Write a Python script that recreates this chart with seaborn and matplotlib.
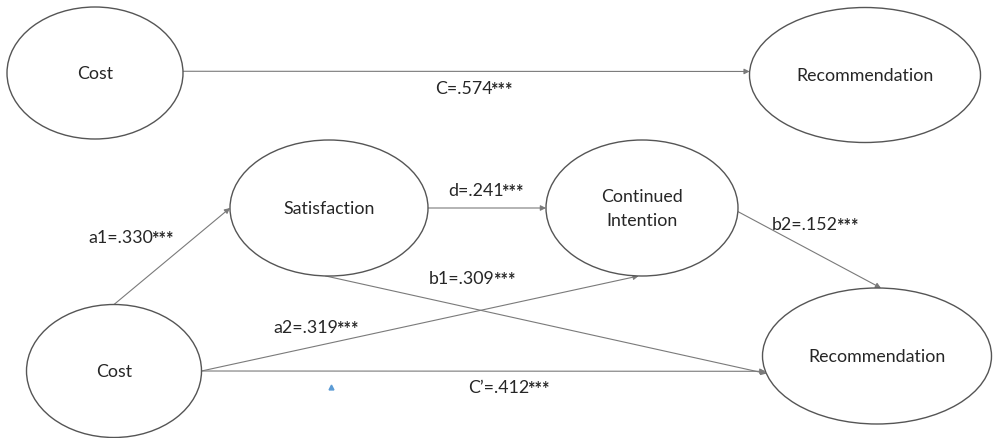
import numpy as np
import matplotlib
matplotlib.use("Agg")
import matplotlib.pyplot as plt
from matplotlib.patches import Ellipse
import seaborn as sns

# ---- data ----
node_ids = ["cost_top", "rec_top", "sat", "ci", "cost_bot", "rec_bot"]
node_labels = ["Cost", "Recommendation", "Satisfaction", "Continued\nIntention", "Cost", "Recommendation"]
edge_src = ["cost_top", "cost_bot", "sat", "sat", "cost_bot", "cost_bot", "ci"]
edge_dst = ["rec_top", "sat", "ci", "rec_bot", "ci", "rec_bot", "rec_bot"]
edge_names = ["C", "a1", "d", "b1", "a2", "C\u2019", "b2"]
edge_coefs = [".574", ".330", ".241", ".309", ".319", ".412", ".152"]
edge_sig = ["***"] * 7

# ---- layout (pixel coordinates, y down) ----
node_center = {"cost_top": (95, 74), "rec_top": (865, 76), "sat": (329, 209),
               "ci": (642, 209), "cost_bot": (114, 372), "rec_bot": (877, 357)}
node_size = {"cost_top": (176, 132), "rec_top": (231, 135), "sat": (198, 136),
             "ci": (192, 136), "cost_bot": (175, 133), "rec_bot": (229, 136)}
# anchor angles on ellipses (degrees, screen coords: 0=right, 90=bottom, 180=left, 270=top)
edge_src_ang = [-1.5, 270, 0, 92, 0, 0, 3]
edge_dst_ang = [183, 180, 180, 165, 92, 167, 272]
label_pos = [(435, 89), (88, 238), (448, 191), (429, 279), (273, 328), (468, 388), (772, 225)]

sns.set_theme(style="white")
plt.rcParams['font.family'] = ['Lato', 'DejaVu Sans']

W, H = 993, 439
fig = plt.figure(figsize=(W / 100, H / 100), dpi=100)
ax = fig.add_axes([0, 0, 1, 1])
ax.set_xlim(0, W)
ax.set_ylim(H, 0)
ax.axis("off")

FS = 12.8
edge_col = "#555555"
line_col = "#7a7a7a"
txt_col = "#262626"

def anchor(n, ang):
    cx, cy = node_center[n]
    w, h = node_size[n]
    t = np.deg2rad(ang)
    return cx + w / 2 * np.cos(t), cy + h / 2 * np.sin(t)

for nid, lab in zip(node_ids, node_labels):
    cx, cy = node_center[nid]
    w, h = node_size[nid]
    ax.add_patch(Ellipse((cx, cy), w, h, facecolor="white", edgecolor=edge_col, lw=1.0, zorder=2))
    ax.text(cx, cy, lab, ha="center", va="center", fontsize=FS, color=txt_col,
            linespacing=1.6, zorder=3)

for s, d, sa, da, nm, cf, sg, (lx, ly) in zip(edge_src, edge_dst, edge_src_ang, edge_dst_ang,
                                               edge_names, edge_coefs, edge_sig, label_pos):
    p0 = anchor(s, sa)
    p1 = anchor(d, da)
    ax.annotate("", xy=p1, xytext=p0,
                arrowprops=dict(arrowstyle="-|>", mutation_scale=8, color=line_col,
                                lw=0.8, shrinkA=0, shrinkB=0), zorder=1)
    t = ax.text(lx, ly, f"{nm}={cf}", ha="left", va="center", fontsize=FS, color=txt_col, zorder=4)
    ax.annotate(sg, xy=(1.0, 0.38), xycoords=t, xytext=(-1.5, 0), textcoords="offset points",
                ha="left", va="center", fontsize=FS, fontweight="bold", color=txt_col, zorder=4)

ax.plot([331], [388], marker="^", markersize=3.5, color="#5b9bd5", linestyle="none")

fig.savefig("out.png", dpi=100)
